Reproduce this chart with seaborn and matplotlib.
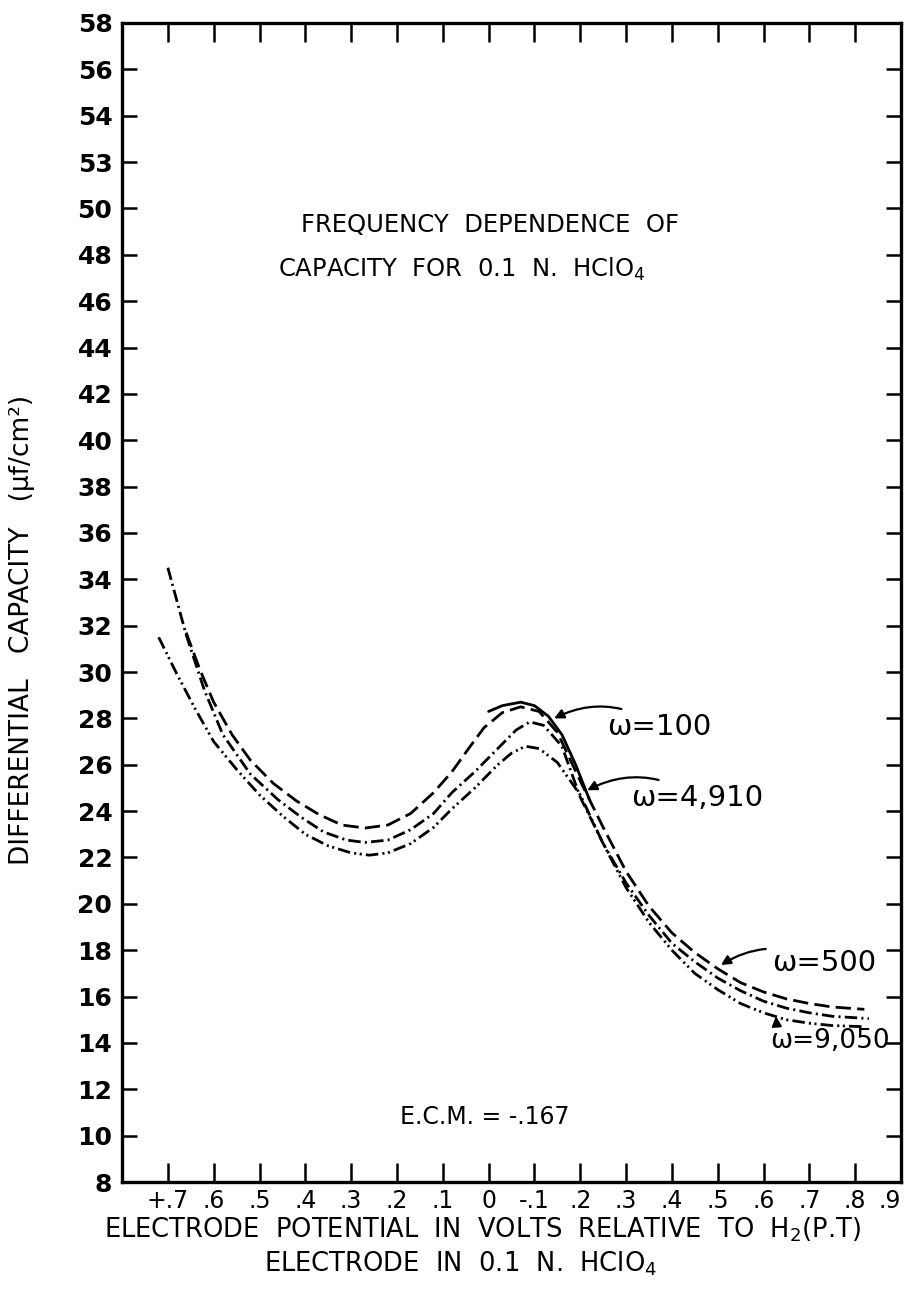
import matplotlib
matplotlib.use("Agg")
import matplotlib.pyplot as plt
import seaborn as sns
import pandas as pd

# Electrode potential (V vs H2), positive values on the left
pot_500 = [0.66, 0.63, 0.60, 0.56, 0.52, 0.47, 0.42, 0.37, 0.32, 0.27, 0.22, 0.17, 0.12,
           0.08, 0.04, 0.01, -0.03, -0.07, -0.11, -0.15, -0.20, -0.25, -0.30, -0.35,
           -0.40, -0.45, -0.50, -0.55, -0.60, -0.65, -0.70, -0.75, -0.82]
cap_500 = [31.7, 30.1, 28.7, 27.3, 26.2, 25.2, 24.45, 23.85, 23.4, 23.27, 23.4, 23.9, 24.8,
           25.7, 26.8, 27.6, 28.25, 28.5, 28.3, 27.4, 25.3, 23.3, 21.4, 19.9,
           18.75, 17.9, 17.2, 16.6, 16.2, 15.9, 15.7, 15.55, 15.45]

pot_100 = [0.0, -0.03, -0.07, -0.10, -0.13, -0.16, -0.19, -0.22]
cap_100 = [28.3, 28.55, 28.7, 28.55, 28.1, 27.3, 26.0, 24.5]

pot_4910 = [0.70, 0.66, 0.62, 0.58, 0.52, 0.46, 0.41, 0.36, 0.31, 0.27, 0.22, 0.17, 0.12,
            0.08, 0.03, -0.02, -0.06, -0.09, -0.12, -0.16, -0.20, -0.25, -0.30, -0.35,
            -0.40, -0.45, -0.50, -0.55, -0.60, -0.65, -0.70, -0.75, -0.83]
cap_4910 = [34.5, 31.6, 29.2, 27.3, 25.6, 24.5, 23.75, 23.1, 22.75, 22.65, 22.75, 23.2, 23.9,
            24.8, 25.7, 26.7, 27.5, 27.85, 27.7, 26.8, 24.6, 22.6, 20.9, 19.5,
            18.3, 17.5, 16.8, 16.25, 15.8, 15.5, 15.3, 15.15, 15.05]

pot_9050 = [0.72, 0.68, 0.64, 0.60, 0.55, 0.50, 0.45, 0.40, 0.35, 0.30, 0.26, 0.22, 0.17,
            0.12, 0.08, 0.03, -0.02, -0.05, -0.08, -0.11, -0.15, -0.20, -0.25, -0.30,
            -0.35, -0.40, -0.45, -0.50, -0.55, -0.60, -0.65, -0.70, -0.75, -0.82]
cap_9050 = [31.5, 29.9, 28.4, 27.0, 25.8, 24.7, 23.8, 23.0, 22.5, 22.2, 22.1, 22.2, 22.6,
            23.3, 24.1, 25.0, 26.0, 26.5, 26.8, 26.7, 26.1, 24.7, 22.6, 20.7,
            19.2, 18.0, 17.0, 16.3, 15.7, 15.3, 15.0, 14.85, 14.75, 14.7]

x_ticks = [0.7, 0.6, 0.5, 0.4, 0.3, 0.2, 0.1, 0.0, -0.1, -0.2, -0.3, -0.4, -0.5, -0.6,
           -0.7, -0.8, -0.9]
x_labels = ["+.7", ".6", ".5", ".4", ".3", ".2", ".1", "0", "-.1", ".2", ".3", ".4", ".5",
            ".6", ".7", ".8", ".9"]
y_ticks = list(range(8, 60, 2))
y_labels = ["8", "10", "12", "14", "16", "18", "20", "22", "24", "26", "28", "30", "32",
            "34", "36", "38", "40", "42", "44", "46", "48", "50", "53", "54", "56", "58"]

sns.set_style("ticks")
plt.rcParams["font.family"] = ["DejaVu Sans"]
plt.rcParams["lines.scale_dashes"] = False
plt.rcParams["text.color"] = "black"
plt.rcParams["xtick.color"] = "black"
plt.rcParams["ytick.color"] = "black"
plt.rcParams["axes.labelcolor"] = "black"

fig = plt.figure(figsize=(9.08, 12.9), dpi=100)
ax = fig.add_axes([0.1344, 0.0837, 0.8579, 0.8985])

styles = {
    "500": (0, (11, 4.5)),
    "100": "-",
    "4910": (0, (9, 3, 1.5, 3)),
    "9050": (0, (9, 3, 1.5, 2.5, 1.5, 3)),
}
series = [("500", pot_500, cap_500), ("100", pot_100, cap_100),
          ("4910", pot_4910, cap_4910), ("9050", pot_9050, cap_9050)]
for name, p, c in series:
    df = pd.DataFrame({"potential": p, "capacity": c})
    sns.lineplot(data=df, x="potential", y="capacity", ax=ax, sort=False,
                 estimator=None, color="black", lw=2.0, linestyle=styles[name])

ax.set_xlim(0.8, -0.9)
ax.set_ylim(8, 58)
ax.set_xticks(x_ticks)
ax.set_xticklabels(x_labels, fontsize=17)
ax.get_xticklabels()[-1].set_horizontalalignment("right")
ax.set_yticks(y_ticks)
ax.set_yticklabels(y_labels, fontsize=18, fontweight="bold")
ax.tick_params(axis="both", direction="in", length=11, width=1.8, color="black",
               top=True, right=True, labeltop=False, labelright=False)
ax.tick_params(axis="x", length=14, pad=5)
ax.tick_params(axis="y", pad=7)
for s in ax.spines.values():
    s.set_linewidth(2.4)
    s.set_color("black")
ax.set_xlabel("")
ax.set_ylabel("")

fig.text(0.0242, 0.5116, "DIFFERENTIAL   CAPACITY   (µf/cm²)", rotation=90,
         ha="center", va="center", fontsize=19)
fig.text(0.531, 0.0465, r"ELECTRODE  POTENTIAL  IN  VOLTS  RELATIVE  TO  H$_2$(P.T)",
         ha="center", va="center", fontsize=18.5)
fig.text(0.507, 0.0200, r"ELECTRODE  IN  0.1  N.  HClO$_4$",
         ha="center", va="center", fontsize=18.5)

ax.text(-0.002, 49.3, "FREQUENCY  DEPENDENCE  OF", ha="center", va="center", fontsize=17.5)
ax.text(0.059, 47.35, r"CAPACITY  FOR  0.1  N.  HClO$_4$", ha="center", va="center",
        fontsize=17.5)
ax.text(0.009, 10.8, "E.C.M. = -.167", ha="center", va="center", fontsize=17)

arrow = dict(arrowstyle="-|>", color="black", lw=1.6, mutation_scale=14,
             shrinkA=2, shrinkB=0)
ax.annotate("ω=100", xy=(-0.143, 28.0), xytext=(-0.259, 27.63), ha="left", va="center",
            fontsize=21, arrowprops=dict(arrow, connectionstyle="arc3,rad=0.3"))
ax.annotate("ω=4,910", xy=(-0.215, 24.9), xytext=(-0.311, 24.57), ha="left", va="center",
            fontsize=21, arrowprops=dict(arrow, connectionstyle="arc3,rad=0.3"))
ax.annotate("ω=500", xy=(-0.507, 17.36), xytext=(-0.618, 17.45), ha="left", va="center",
            fontsize=21, arrowprops=dict(arrow, connectionstyle="arc3,rad=0.3"))
ax.annotate("ω=9,050", xy=(-0.627, 15.15), xytext=(-0.615, 14.1), ha="left", va="center",
            fontsize=19, arrowprops=dict(arrow, connectionstyle="arc3,rad=-0.9"))

fig.savefig("out.png", dpi=100)
